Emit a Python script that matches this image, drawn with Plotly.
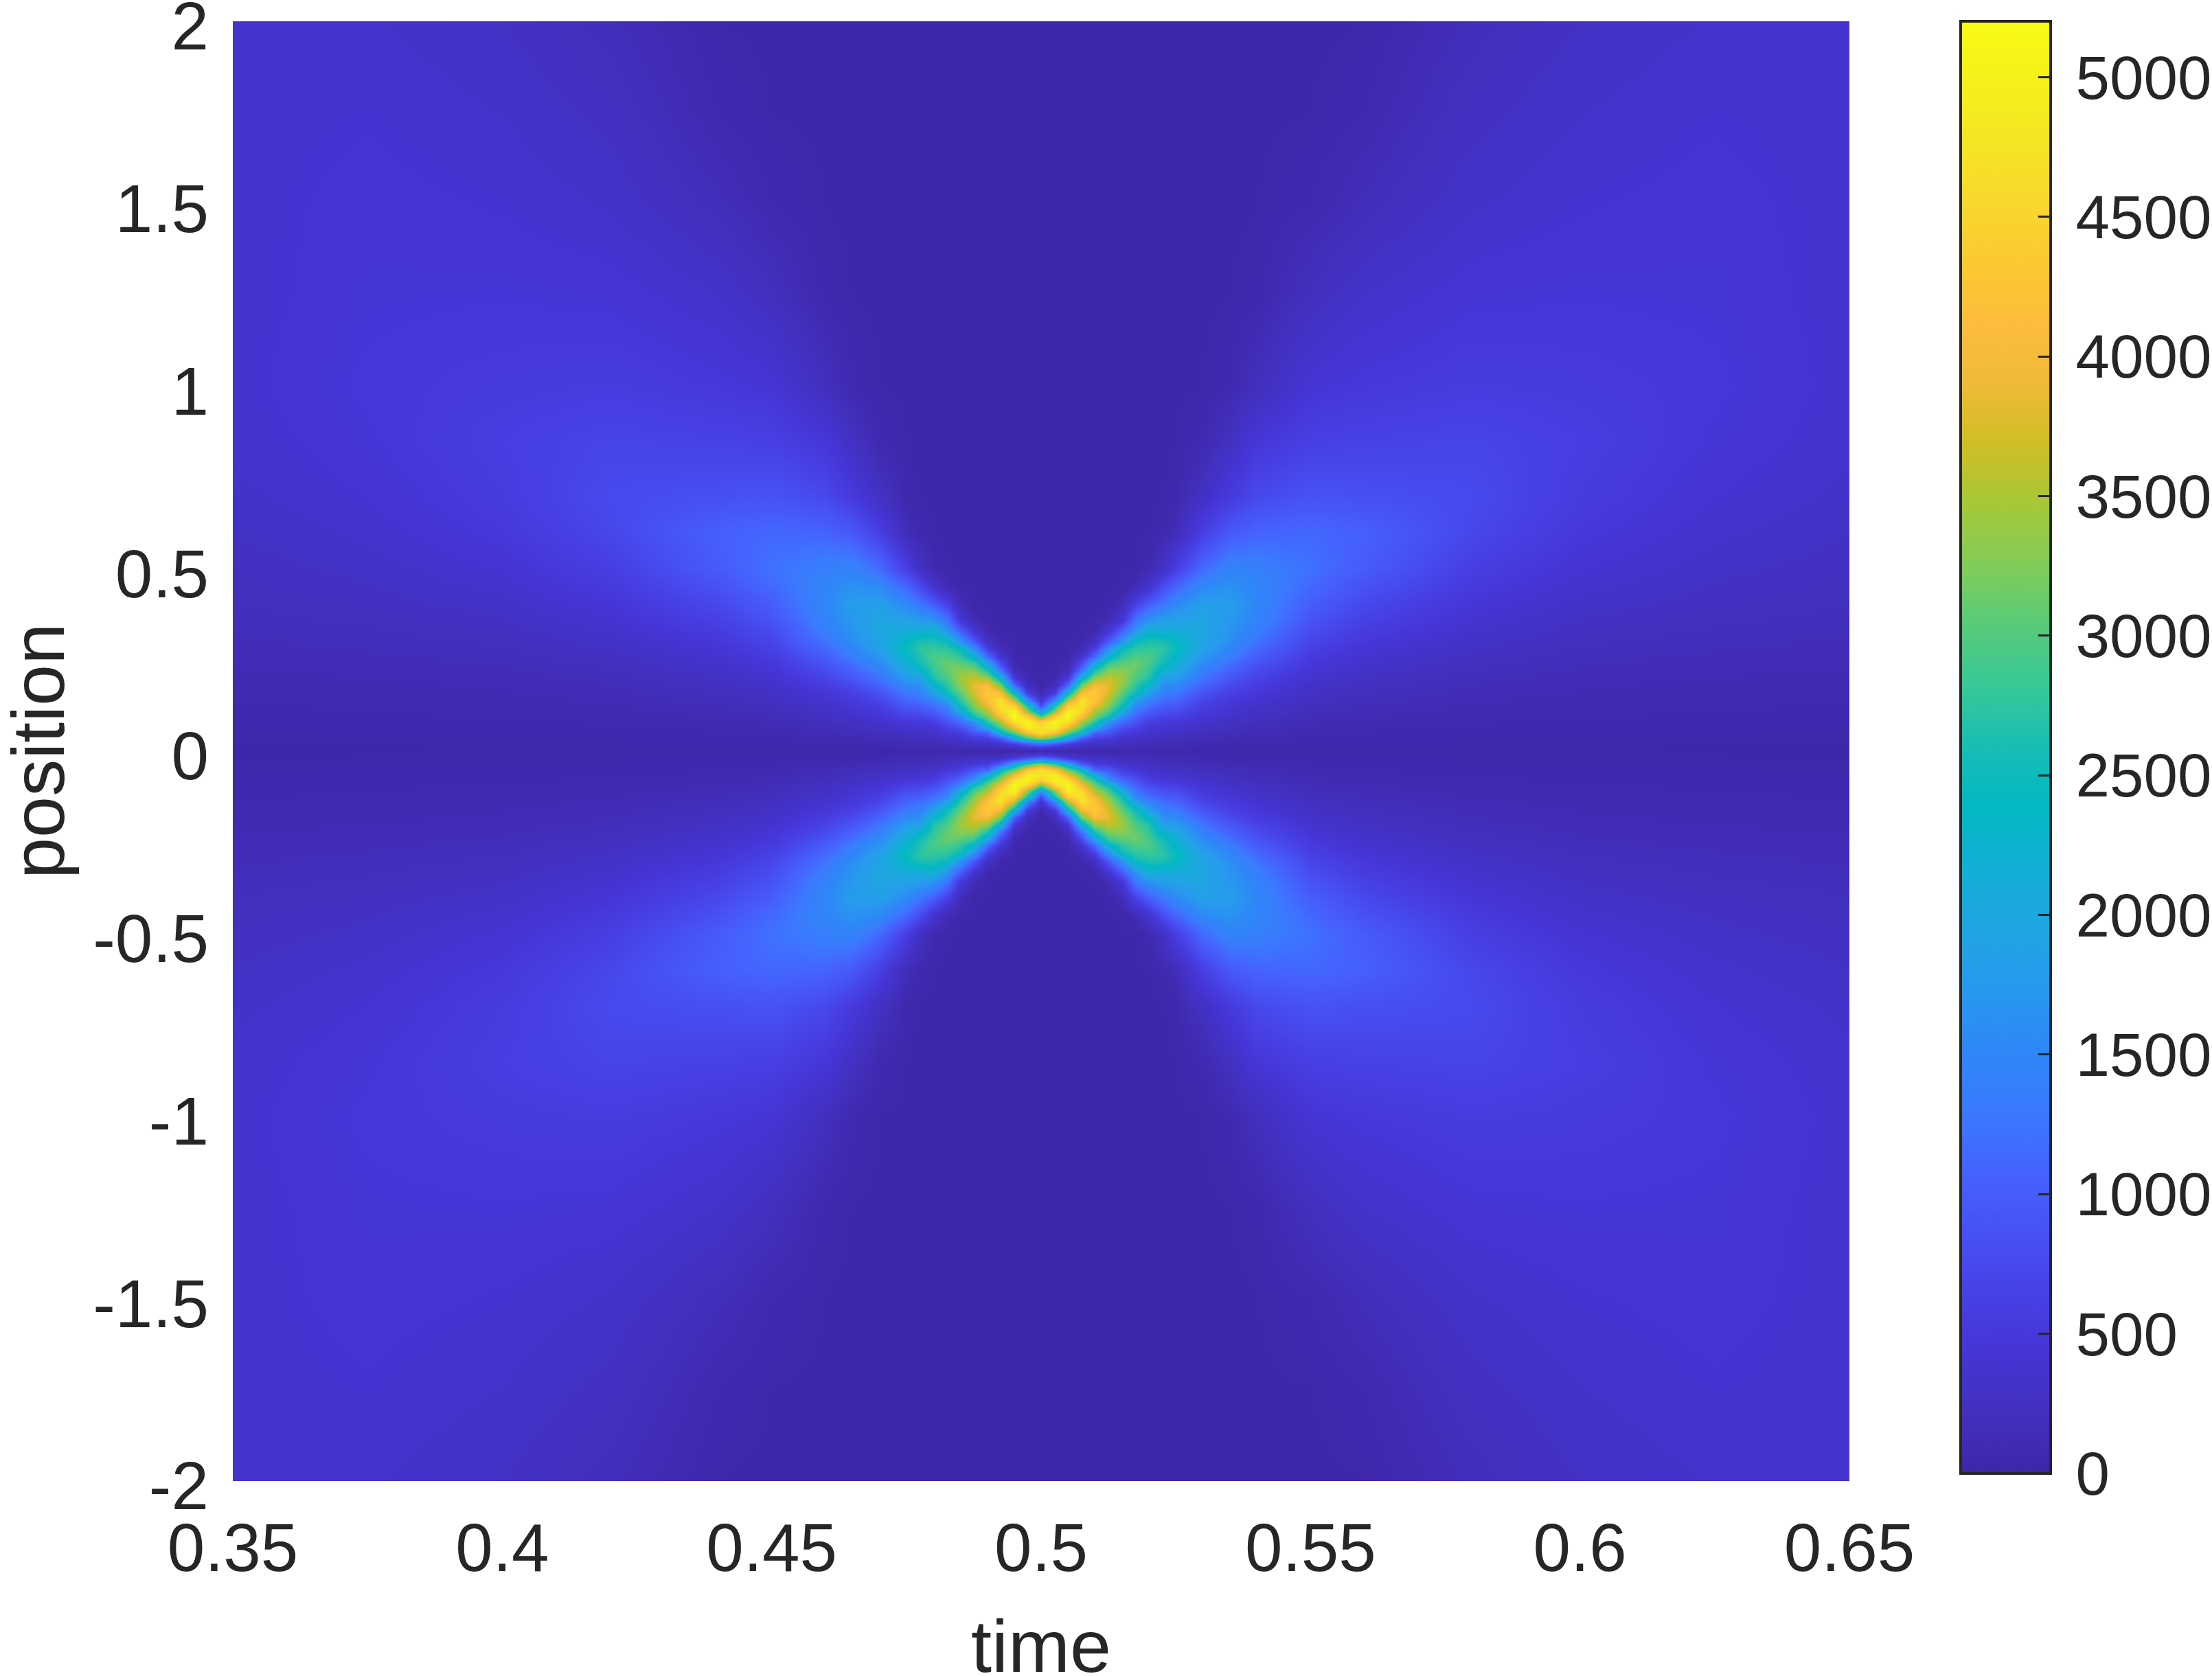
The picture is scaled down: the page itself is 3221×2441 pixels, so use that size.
import numpy as np
import plotly.graph_objects as go

pos_upper = [0,.01,.02,.035,.05,.065,.08,.095,.11,.125,.14,.16,.18,.2,.22,.24,.26,.28,.3,.33,.36,.4,.45,.5,.6,.7,.85,1,1.25,1.5,1.75,2]
time_left = [.35,.375,.4,.42,.44,.45,.46,.465,.47,.475,.4775,.48,.4825,.485,.4875,.49,.4925,.495,.4975,.5]

c350 = [25,28,30,34,38,42,48,54,60,66,72,82,92,100,110,120,130,140,150,165,180,200,220,240,280,320,360,380,370,370,365,350]
c375 = [25,28,32,38,44,50,57,64,72,80,88,96,104,112,124,136,148,160,172,190,210,240,270,300,360,410,460,490,460,440,400,350]
c400 = [25,30,35,42,50,58,66,74,82,90,98,110,120,130,145,160,175,192,210,240,270,310,360,410,500,560,600,540,470,400,340,280]
c420 = [25,30,36,45,55,65,75,85,95,105,118,135,152,170,195,220,245,272,300,345,390,450,525,600,720,760,690,570,450,330,250,170]
c440 = [30,32,40,55,70,80,95,110,130,150,170,200,230,260,300,340,380,430,480,550,630,730,850,980,1040,830,650,500,340,170,70,30]
c450 = [30,35,45,65,85,100,120,145,170,195,220,260,310,370,430,490,550,620,690,790,880,1000,1130,1220,1120,870,620,440,210,70,30,22]
c460 = [30,40,60,90,130,160,190,240,280,330,390,460,560,660,760,880,1000,1120,1240,1360,1450,1500,1480,1400,1080,740,470,200,50,30,25,22]
c465 = [30,45,70,110,160,200,260,320,380,440,510,620,760,900,1050,1200,1370,1480,1580,1680,1720,1800,1650,1450,950,520,250,70,30,25,22,22]
c470 = [30,50,80,130,200,270,340,420,510,600,690,880,1060,1230,1390,1550,1720,1880,1930,1970,1950,1850,1550,1150,600,260,70,30,25,22,22,22]
c475 = [40,80,115,170,270,350,480,630,780,950,1100,1300,1530,1780,2000,2200,2350,2450,2380,2150,1900,1550,1100,600,150,45,30,25,22,22,22,22]
c4775 = [40,90,130,200,300,400,500,660,830,980,1180,1400,1620,1850,2200,2550,2650,2750,2650,2100,1800,1300,800,260,60,28,22,22,22,22,22,22]
c480 = [40,100,150,215,340,440,590,780,985,1200,1420,1830,2290,2650,2780,2880,2950,2800,2650,2250,1650,1050,370,80,28,22,22,22,22,22,22,22]
c4825 = [40,110,170,300,470,670,890,1040,1280,1500,1880,2500,2750,2950,3100,3150,2950,2750,2520,1700,1250,650,110,30,22,22,22,22,22,22,22,22]
c485 = [40,120,200,370,570,830,1180,1470,2050,2450,2750,3050,3300,3430,3300,3050,2750,2500,1700,1050,450,150,35,22,22,22,22,22,22,22,22,22]
c4875 = [40,120,280,510,920,1250,1700,2520,2950,3250,3450,3720,3850,3650,3300,2850,2250,1600,1000,430,110,30,22,22,22,22,22,22,22,22,22,22]
c490 = [40,130,280,600,1050,2100,2750,3150,3500,3900,4200,4400,4050,3400,2650,1950,1100,620,260,60,28,22,22,22,22,22,22,22,22,22,22,22]
c4925 = [40,170,380,1000,2300,3000,3500,4100,4550,4780,4750,4050,3200,2250,1300,750,380,150,60,28,22,22,22,22,22,22,22,22,22,22,22,22]
c495 = [40,250,600,2000,3100,4000,4800,5150,5050,4400,3500,2300,1100,480,180,70,35,28,22,22,22,22,22,22,22,22,22,22,22,22,22,22]
c4975 = [40,350,1000,2800,4200,5000,5000,4500,3300,2600,1500,550,180,70,35,28,22,22,22,22,22,22,22,22,22,22,22,22,22,22,22,22]
c500 = [50,450,1300,3400,4700,4700,4350,3000,1700,800,350,90,35,28,22,22,22,22,22,22,22,22,22,22,22,22,22,22,22,22,22,22]

columns = [c350,c375,c400,c420,c440,c450,c460,c465,c470,c475,c4775,c480,c4825,c485,c4875,c490,c4925,c495,c4975,c500]

x_ticks = [0.35,0.4,0.45,0.5,0.55,0.6,0.65]
x_labels = ["0.35","0.4","0.45","0.5","0.55","0.6","0.65"]
y_ticks = [-2,-1.5,-1,-0.5,0,0.5,1,1.5,2]
y_labels = ["-2","-1.5","-1","-0.5","0","0.5","1","1.5","2"]
cb_ticks = [0,500,1000,1500,2000,2500,3000,3500,4000,4500,5000]

parula = ["#3e26a8","#4230bf","#4535d4","#4741e5","#4752f4","#4563fd","#3a7afe","#2e87f7",
          "#2799ee","#20a5e3","#13afd5","#02b8c3","#18bdb5","#37c897","#57cb7a","#81cc59",
          "#a5c838","#cfbe26","#efba36","#fdbd3c","#fcc832","#f8d82d","#f5e524","#f6f01a","#f9fb15"]
scale = [[i/(len(parula)-1), c] for i, c in enumerate(parula)]

t_all = np.array(time_left + [round(1 - t, 4) for t in time_left[-2::-1]])
p_all = np.array([-p for p in pos_upper[:0:-1]] + pos_upper)
Q = np.array(columns, dtype=float).T
H = np.hstack([Q, Q[:, -2::-1]])
Z = np.vstack([H[:0:-1], H])

INK = "#262626"
AX_FS = 98
CB_FS = 89
TITLE_FS = 108
pad = '<span style="font-size:58px">&nbsp;</span>'
fig = go.Figure(go.Heatmap(
    x=t_all, y=p_all, z=Z, zsmooth="best", zmin=0, zmax=5200, colorscale=scale,
    colorbar=dict(
        x=(2855-339)/2354, xanchor="left", xref="paper", xpad=0, ypad=0,
        y=(2157-2146)/2126, yanchor="bottom", len=2115/2126, lenmode="fraction",
        thickness=131, thicknessmode="pixels",
        outlinecolor=INK, outlinewidth=4,
        ticks="inside", ticklen=20, tickwidth=3, tickcolor=INK,
        tickmode="array", tickvals=cb_ticks, ticktext=[pad + str(v) for v in cb_ticks],
        tickfont=dict(family="Liberation Sans", size=CB_FS, color=INK),
    ),
))
fig.update_layout(
    width=3221, height=2441, margin=dict(l=339, r=528, t=31, b=284, autoexpand=False),
    paper_bgcolor="white", plot_bgcolor="white",
    font=dict(family="Liberation Sans", size=AX_FS, color=INK),
    xaxis=dict(range=[0.35,0.65], tickmode="array", tickvals=x_ticks, ticktext=x_labels,
               ticks="", showgrid=False, zeroline=False, showline=False, ticklabelstandoff=32,
               ticklabeloverflow="allow"),
    yaxis=dict(range=[-2,2], tickmode="array", tickvals=y_ticks, ticktext=y_labels,
               ticks="", showgrid=False, zeroline=False, showline=False, ticklabelstandoff=34,
               ticklabelshift=7, ticklabeloverflow="allow"),
    annotations=[
        dict(text="time", xref="paper", yref="paper", x=0.5, y=(2157-2397)/2126,
             xanchor="center", yanchor="middle", showarrow=False,
             font=dict(size=TITLE_FS, color=INK)),
        dict(text="position", xref="paper", yref="paper", x=(55-339)/2354, y=0.5,
             xanchor="center", yanchor="middle", textangle=-90, showarrow=False,
             font=dict(size=TITLE_FS, color=INK)),
    ],
)
fig.write_html("out.html", post_script="document.body.style.margin='0';", config={"displayModeBar": False})
